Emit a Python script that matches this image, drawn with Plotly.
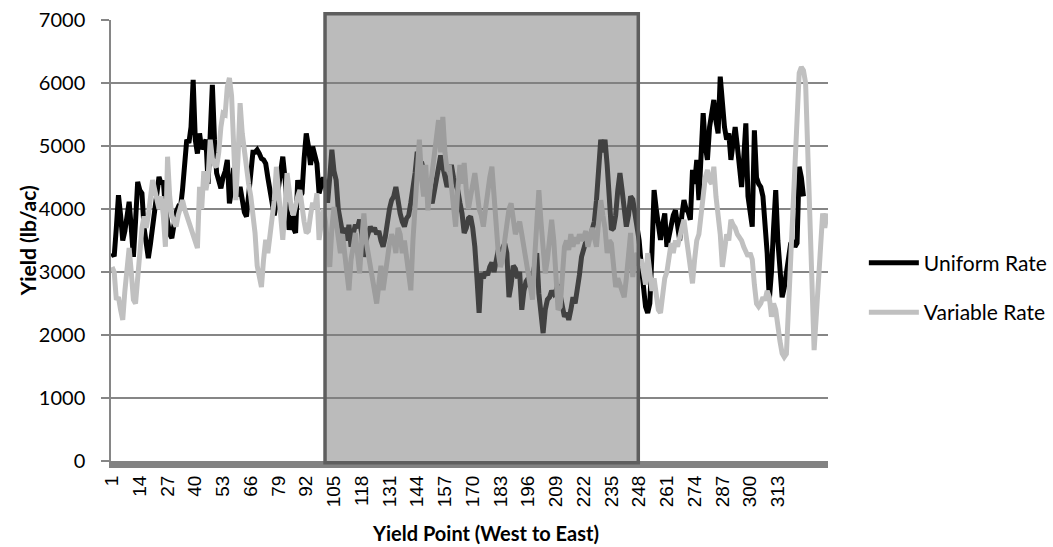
import plotly.graph_objects as go

# Yield readings along the transect (lb/ac), one value per yield point
uniform_rate = [
    3300, 3250, 3700, 4220, 3900, 3500, 3650, 3900, 4115, 3700,
    3240, 3800, 4430, 4300, 4250, 3700, 3400, 3220, 3450, 3700,
    3900, 4200, 4510, 4400, 4450, 4000, 3800, 3600, 3540, 3800,
    3950, 4030, 4000, 4300, 4700, 5100, 5050, 5300, 6050, 5100,
    4880, 5200, 4950, 5050, 5100, 4400, 5200, 5970, 5100, 4570,
    4450, 4330, 4500, 4600, 4780, 4090, 4300, 4650, 4400, 4200,
    4350, 4100, 3950, 3880, 4200, 4600, 4900, 4900, 4940, 4880,
    4800, 4780, 4720, 4500, 4300, 4200, 3900, 4100, 4400, 4600,
    4830, 4500, 4100, 3670, 3900, 3700, 3620, 4460, 4200, 4250,
    4800, 5200, 5000, 4700, 4990, 4800, 4720, 4250, 4400, 4500,
    4400, 4100, 4500, 4940, 4600, 4460, 4000, 3800, 3620, 3700,
    3500, 3750, 3400, 3600, 3750, 3700, 3830, 3600, 3240, 3500,
    3650, 3720, 3650, 3700, 3600, 3650, 3500, 3400, 3550, 3800,
    4000, 4140, 4200, 4350, 4100, 3930, 3800, 3720, 3850, 3900,
    4100, 4300, 4570, 4910, 4700, 4750, 4600, 4460, 4300, 4200,
    4090, 4300, 4500, 4700, 4850, 4670, 4500, 4350, 4450, 4700,
    4500, 4400, 4300, 4100, 3930, 3620, 3700, 3850, 3880, 3700,
    3400, 2900, 2350, 2980, 2900, 3000, 2950, 3080, 3150, 3000,
    3200, 3350, 3300, 3400, 3450, 3300, 2600, 2800, 3100, 3050,
    2900, 3000, 2400, 2700, 2850, 2900, 2750, 2900, 3150, 3300,
    2660, 2300, 2030, 2400, 2560, 2600, 2700, 2650, 2700, 2800,
    2600, 2400, 2290, 2350, 2240, 2400, 2600, 2500, 2700, 2950,
    3240, 3350, 3510, 3600, 3550, 3650, 3800, 4140, 4600, 5100,
    4900, 5100, 4700, 4100, 3670, 3700, 3900, 4300, 4570, 4300,
    4000, 3720, 3900, 4200, 4150, 3950, 3800, 3500, 3100, 2700,
    2450, 2350, 2500, 3300, 4300, 4000, 3700, 3510, 3750, 3930,
    3400, 3600, 3700, 3900, 3980, 3700, 3500, 3900, 4140, 4000,
    3950, 3830, 4620, 4400, 4780, 4140, 4800, 5520, 5000, 4780,
    5300, 5500, 5730, 5400, 5200, 6100, 5600, 5300, 5100, 5200,
    4780, 5000, 5300, 5000, 4700, 4350, 4800, 5360, 4200, 3950,
    3720, 5250, 4500, 4400, 4350, 4200, 3800, 3300, 2560, 3000,
    3700, 4300, 3500, 2900, 2600, 2750, 3000, 3300, 3450, 3500,
    3400, 3460, 4670, 4500, 4200,
]

variable_rate = [
    3080, 3000, 2560, 2600, 2400, 2240, 2700, 3100, 3380, 3000,
    2560, 2500, 2900, 3500, 3700, 3880, 3700, 3900, 4200, 4460,
    4300, 4100, 4000, 4200, 3900, 3400, 4830, 4200, 3900, 3800,
    3720, 3900, 4000, 4140, 4000, 3900, 3800, 3700, 3550, 3450,
    3380, 4350, 4000, 4600, 4300, 4500, 5100, 4800, 4700, 4670,
    4900, 5300, 5520, 5500, 5940, 6080, 5800, 5000, 4140, 4800,
    5680, 5200, 4900, 4700, 4400, 4200, 3900, 3620, 3100, 2900,
    2760, 3200, 3510, 3300, 3600, 3900, 4140, 4670, 4300, 3900,
    3510, 4000, 4570, 4300, 4000, 3900, 4100, 4200, 4300, 4000,
    3800, 3620, 3650, 3900, 4100, 4000, 4250, 3510, 3700, 4000,
    3800, 3400, 3080, 3700, 4030, 3800, 3500, 3300, 3600, 3200,
    3000, 2710, 3200, 3400, 3620, 3300, 2980, 3500, 3930, 3500,
    3300, 3000, 2800, 2700, 2500, 2800, 3100, 2710, 3000, 3300,
    3450, 3600, 3500, 3300, 3700, 3600, 3300, 3500, 3200, 3000,
    2710, 3500, 4000, 4600, 5100, 4500, 4200, 4700, 3980, 4300,
    4600, 4800, 5200, 5410, 4900, 5460, 4900, 4600, 4700, 4400,
    4100, 3720, 4300, 4700, 4400, 4730, 4300, 4000, 4200, 4400,
    4570, 4300, 4000, 3900, 3720, 4000, 4300, 4500, 4670, 4200,
    3700, 3300, 3080, 3200, 3500, 3800, 4000, 4090, 3800, 3600,
    3700, 3800, 3600, 3400, 3200, 2900, 2700, 2560, 3200, 3800,
    4300, 3800, 3300, 2980, 3200, 3500, 3830, 3500, 2900, 2400,
    2450, 2900, 3400, 3500, 3350, 3600, 3400, 3550, 3450, 3600,
    3500, 3550, 3650, 3400, 3600, 3700, 3550, 3400, 3800, 4140,
    3900, 3700, 3300, 3500, 3450, 3100, 2760, 2900, 2800, 2700,
    2600, 2900, 3300, 3620, 2920, 3200, 3300, 3100, 3200, 3000,
    2800, 3300, 3000, 2700, 2900, 2600, 2400, 2350, 2700, 2900,
    3000, 3200, 3460, 3300, 3500, 3400, 3600, 3700, 3830, 3600,
    3400, 3100, 2820, 3200, 3500, 3600, 3900, 4250, 4500, 4620,
    4450, 4400, 4670, 4200, 3900, 3600, 3080, 3400, 3600, 3500,
    3830, 3750, 3700, 3600, 3550, 3500, 3400, 3300, 3250, 3300,
    3200, 2800, 2500, 2450, 2500, 2600, 2550, 2700, 2600, 2290,
    2500, 2400, 2100, 1900, 1710, 1650, 1700, 2450, 3000, 3720,
    4500, 5500, 6160, 6250, 6200, 6000, 5000, 4000, 3000, 1760,
    2300, 2800, 3300, 3930, 3700, 3930,
]

# Every 13th yield point is labelled on the category axis
tick_points = list(range(1, 314, 13))
y_ticks = [0, 1000, 2000, 3000, 4000, 5000, 6000, 7000]

# Highlighted stretch of the transect
zone_start, zone_end = 100.8, 247.6

n_points = max(len(uniform_rate), len(variable_rate))

fig = go.Figure()
fig.add_trace(go.Scatter(
    x=list(range(1, len(uniform_rate) + 1)), y=uniform_rate,
    mode="lines", name="Uniform Rate", legendgroup="u",
    line=dict(color="#000000", width=5),
))
fig.add_trace(go.Scatter(
    x=list(range(1, len(variable_rate) + 1)), y=variable_rate,
    mode="lines", name="Variable Rate", legendgroup="v",
    line=dict(color="#C0C0C0", width=5),
))

fig.add_shape(
    type="rect", xref="x", yref="paper",
    x0=zone_start, x1=zone_end, y0=-0.004, y1=1.014,
    fillcolor="rgba(124,124,124,0.52)",
    line=dict(color="#5E5E5E", width=3.5),
    layer="above",
)

title_font = dict(family="Lato", color="#000000")
fig.add_annotation(
    text="<b>Yield Point (West to East)</b>", xref="paper", yref="paper",
    x=0.523, y=-0.164, xanchor="center", yanchor="middle", showarrow=False,
    font=dict(size=20, **title_font),
)
fig.add_annotation(
    text="<b>Yield (lb/ac)</b>", xref="paper", yref="paper",
    x=-0.116, y=0.5, xanchor="center", yanchor="middle", showarrow=False,
    textangle=-90, font=dict(size=21, **title_font),
)

fig.update_layout(
    width=1053, height=547,
    margin=dict(l=111, r=225, t=20, b=86, autoexpand=False),
    paper_bgcolor="white", plot_bgcolor="white",
    showlegend=True,
    legend=dict(
        x=1.05, y=0.393, xanchor="left", yanchor="middle",
        font=dict(family="Lato", size=21, color="#000000"),
        itemwidth=50, tracegroupgap=19, traceorder="grouped",
        bgcolor="rgba(0,0,0,0)",
    ),
    xaxis=dict(
        range=[0.5, n_points + 0.5], automargin=False,
        tickmode="array", tickvals=tick_points,
        ticktext=[str(t) for t in tick_points],
        tickangle=-90, ticks="",
        tickfont=dict(family="Liberation Sans", size=19, color="#000000"),
        showgrid=False, zeroline=False,
        showline=True, linecolor="#828282", linewidth=7,
    ),
    yaxis=dict(
        range=[0, 7000], automargin=False,
        tickmode="array", tickvals=y_ticks,
        ticks="outside", ticklen=8, tickwidth=1.5, tickcolor="#868686",
        ticklabelstandoff=12,
        tickfont=dict(family="Lato", size=20, color="#000000"),
        showgrid=True, gridcolor="#868686", gridwidth=1.8,
        zeroline=False,
        showline=True, linecolor="#868686", linewidth=1.5,
    ),
)

fig.write_html("out.html")
